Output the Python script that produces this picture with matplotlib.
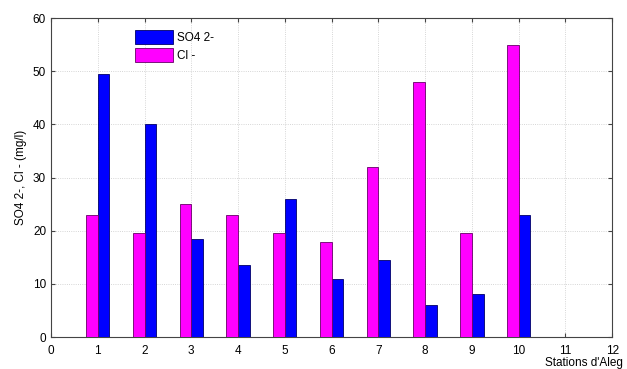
import numpy as np
import matplotlib.pyplot as plt

plt.rcParams['font.family'] = ['Liberation Sans', 'DejaVu Sans']

# stations
stations = [1, 2, 3, 4, 5, 6, 7, 8, 9, 10]
cl = [23, 19.5, 25, 23, 19.5, 17.8, 32, 48, 19.5, 55]
so4 = [49.5, 40, 18.5, 13.5, 26, 11, 14.5, 6, 8, 23]

x = np.array(stations)
w = 0.25

fig = plt.figure(figsize=(6.27, 3.69), dpi=100)
ax = fig.add_axes([0.0813, 0.0867, 0.895, 0.864])

b_so4 = ax.bar(x + w / 2, so4, w, color='#0000ff', edgecolor='#000066', linewidth=0.6, label='SO4 2-', zorder=3)
b_cl = ax.bar(x - w / 2, cl, w, color='#ff00ff', edgecolor='#660066', linewidth=0.6, label='Cl -', zorder=3)

ax.set_xlim(0, 12)
ax.set_ylim(0, 60)
ax.set_xticks(range(0, 13))
ax.set_yticks(range(0, 61, 10))
ax.grid(True, linestyle=':', color='#c8c8c8', linewidth=0.6, zorder=0)
ax.tick_params(direction='in', top=True, right=True, labelsize=8.5, length=3, color='#444444')
ax.tick_params(axis='x', pad=6)
for s in ax.spines.values():
    s.set_color('#444444')
    s.set_linewidth(0.8)

ax.set_ylabel('SO4 2-, Cl - (mg/l)', fontsize=8.5)
ax.text(1.02, -0.063, "Stations d'Aleg", transform=ax.transAxes, ha='right', va='top', fontsize=8.5)

ax.legend(handles=[b_so4, b_cl], loc='upper left', bbox_to_anchor=(0.142, 0.978),
          frameon=False, fontsize=8.5, handlelength=3.2, handleheight=1.5,
          handletextpad=0.35, labelspacing=0.3, borderaxespad=0)

fig.savefig('out.png', dpi=100)
